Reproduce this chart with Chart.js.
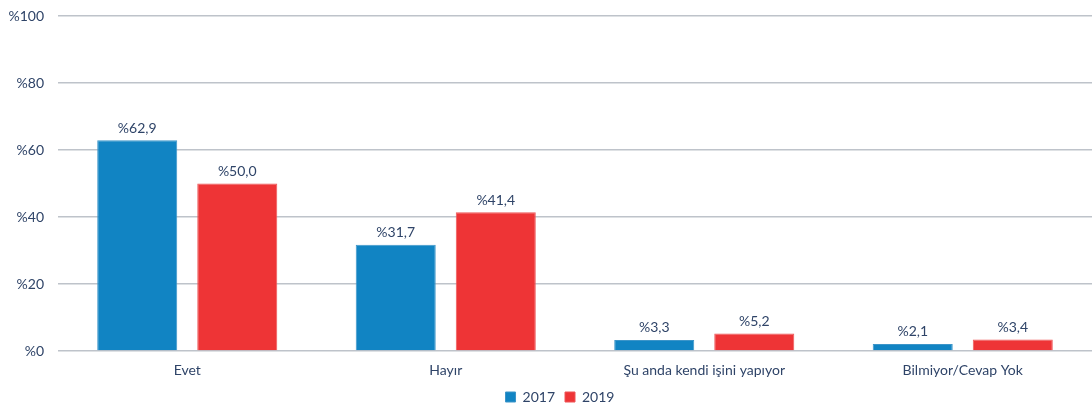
<!DOCTYPE html>
<html>
<head>
<meta charset="utf-8">
<script src="https://cdn.jsdelivr.net/npm/chart.js@4"></script>
<style>
html,body{margin:0;padding:0;background:#fff;}
#wrap{width:1092px;height:410px;}
</style>
</head>
<body>
<div id="wrap"><canvas id="c" width="1092" height="410"></canvas></div>
<script>
const categories = ["Evet", "Hayır", "Şu anda kendi işini yapıyor", "Bilmiyor/Cevap Yok"];
const series2017 = [62.9, 31.7, 3.3, 2.1];
const series2019 = [50.0, 41.4, 5.2, 3.4];
const seriesNames = ["2017", "2019"];
const yTicks = [0, 20, 40, 60, 80, 100];

const textColor = "#2F4468";
const fontFamily = "Lato, 'Open Sans', sans-serif";

const fmt = v => "%" + v.toFixed(1).replace(".", ",");

const valueLabels = {
  id: "valueLabels",
  afterDatasetsDraw(chart) {
    const ctx = chart.ctx;
    ctx.save();
    ctx.font = "14px " + fontFamily;
    ctx.fillStyle = textColor;
    ctx.textAlign = "center";
    ctx.textBaseline = "bottom";
    chart.data.datasets.forEach((ds, i) => {
      const meta = chart.getDatasetMeta(i);
      meta.data.forEach((el, j) => {
        ctx.fillText(fmt(ds.data[j]), el.x, el.y - 5);
      });
    });
    ctx.restore();
  }
};

const legendShift = {
  id: "legendShift",
  afterLayout(chart) {
    if (chart.legend) { chart.legend.left += 14; chart.legend.right += 14; }
  }
};

new Chart(document.getElementById("c"), {
  type: "bar",
  data: {
    labels: categories,
    datasets: [
      { label: seriesNames[0], data: series2017, backgroundColor: "#1184C3", borderColor: "#3C95C9", borderWidth: 1, categoryPercentage: 0.774, barPercentage: 0.8 },
      { label: seriesNames[1], data: series2019, backgroundColor: "#EE3436", borderColor: "#EE5556", borderWidth: 1, categoryPercentage: 0.774, barPercentage: 0.8 }
    ]
  },
  plugins: [valueLabels, legendShift],
  options: {
    responsive: false,
    animation: false,
    layout: { padding: { top: 16, right: 0, left: 0, bottom: -4 } },
    plugins: {
      legend: {
        position: "bottom",
        labels: {
          boxWidth: 10, boxHeight: 10, padding: 10,
          color: textColor,
          font: { family: fontFamily, size: 14 }
        }
      },
      tooltip: { enabled: false }
    },
    scales: {
      x: {
        grid: { display: false, drawTicks: false },
        border: { display: false },
        ticks: { color: textColor, font: { family: fontFamily, size: 14 }, padding: 11 },
        afterFit: axis => { axis.height = 29; }
      },
      y: {
        min: 0, max: 100,
        afterBuildTicks: axis => { axis.ticks = yTicks.map(v => ({ value: v })); },
        grid: { color: "#BEC3CA", lineWidth: 1.6, drawTicks: false },
        border: { display: false },
        ticks: { color: textColor, font: { family: fontFamily, size: 14 }, padding: 14, callback: v => "%" + v },
        afterFit: axis => { axis.width = 58; axis.paddingTop = 0; axis.paddingBottom = 0; }
      }
    }
  }
});
</script>
</body>
</html>
